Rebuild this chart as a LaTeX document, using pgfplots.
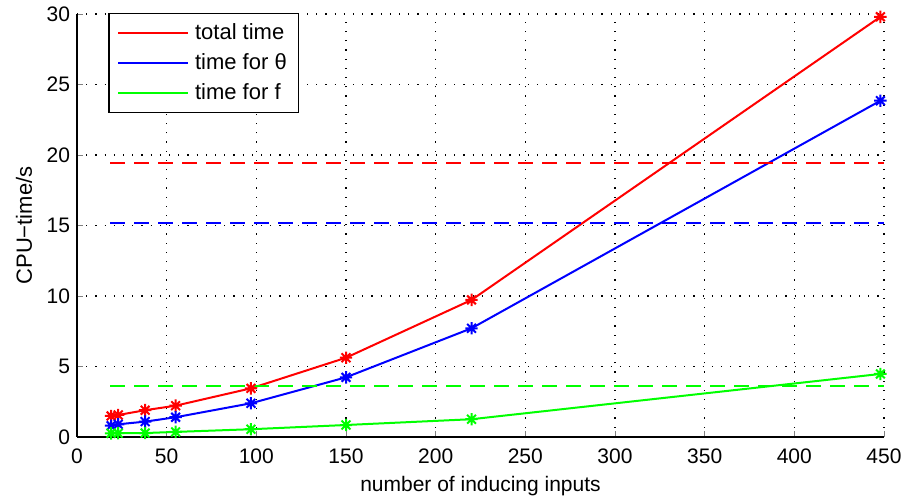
\documentclass[border=0pt]{standalone}
\usepackage{fontspec}
\setmainfont{Liberation Sans}
\usepackage{pgfplots}
\pgfplotsset{compat=1.18}

% eight-armed star like MATLAB's '*'
\pgfdeclareplotmark{mstar}{%
  \pgfpathmoveto{\pgfqpoint{-\pgfplotmarksize}{0pt}}\pgfpathlineto{\pgfqpoint{\pgfplotmarksize}{0pt}}%
  \pgfpathmoveto{\pgfqpoint{0pt}{-\pgfplotmarksize}}\pgfpathlineto{\pgfqpoint{0pt}{\pgfplotmarksize}}%
  \pgfpathmoveto{\pgfqpoint{-0.707\pgfplotmarksize}{-0.707\pgfplotmarksize}}\pgfpathlineto{\pgfqpoint{0.707\pgfplotmarksize}{0.707\pgfplotmarksize}}%
  \pgfpathmoveto{\pgfqpoint{-0.707\pgfplotmarksize}{0.707\pgfplotmarksize}}\pgfpathlineto{\pgfqpoint{0.707\pgfplotmarksize}{-0.707\pgfplotmarksize}}%
  \pgfusepathqstroke}

\begin{document}
\begin{tikzpicture}
\begin{axis}[scale only axis, width=403.5pt, height=211.5pt,
  xmin=0, xmax=450, ymin=0, ymax=30,
  xtick={0,50,...,450}, ytick={0,5,...,30},
  axis x line*=bottom, axis y line*=left,
  /pgf/number format/assume math mode=true,
  font=\fontsize{10.5}{12}\selectfont,
  tick align=inside, major tick length=3pt,
  xticklabel style={yshift=-2.5pt},
  grid=major, major grid style={black, dash pattern=on 0.6pt off 4pt, line width=0.6pt},
  axis line style={line width=0.6pt, -},
  xlabel={number of inducing inputs}, ylabel={CPU−time/s},
  xlabel style={at={(axis description cs:0.5,0)}, anchor=base, yshift=-27.5pt},
  ylabel style={at={(axis description cs:-0.0558,0.5)}, anchor=base, font=\fontsize{11}{12}\selectfont},
  legend style={at={(rel axis cs:0.039,1.003)}, anchor=north west, draw=black, line width=0.6pt,
    font=\fontsize{11}{12}\selectfont, row sep=1.6pt, inner xsep=4pt, inner ysep=3pt},
  legend cell align=left,
  legend image code/.code={\draw[#1, line width=1pt] (0pt,0pt) -- (35pt,0pt); \path (36pt,0pt);},
  mark options={solid, line width=1pt},
]
\addplot[red, line width=1pt, mark=mstar, mark size=3.1pt] coordinates {
 (19,1.49) (23,1.56) (38,1.9) (55,2.22) (97,3.45) (150,5.62) (220,9.72) (448,29.8)};
\addlegendentry{total time}
\addplot[blue, line width=1pt, mark=mstar, mark size=3.1pt] coordinates {
 (19,0.8) (23,0.9) (38,1.09) (55,1.4) (97,2.39) (150,4.23) (220,7.71) (448,23.85)};
\addlegendentry{time for θ}
\addplot[green, line width=1pt, mark=mstar, mark size=3.1pt] coordinates {
 (19,0.26) (23,0.27) (38,0.28) (55,0.36) (97,0.55) (150,0.85) (220,1.26) (448,4.47)};
\addlegendentry{time for f}
\addplot[red, line width=1pt, dash pattern=on 7.5pt off 4.5pt, forget plot] coordinates {(18.5,19.4) (450,19.4)};
\addplot[blue, line width=1pt, dash pattern=on 7.5pt off 4.5pt, forget plot] coordinates {(18.5,15.2) (450,15.2)};
\addplot[green, line width=1pt, dash pattern=on 7.5pt off 4.5pt, forget plot] coordinates {(18.5,3.62) (450,3.62)};
\end{axis}
\pgfresetboundingbox
\path[use as bounding box] ([xshift=-38.5pt,yshift=-31pt]current axis.south west)
  rectangle ([xshift=12pt,yshift=7pt]current axis.north east);
\end{tikzpicture}
\end{document}
